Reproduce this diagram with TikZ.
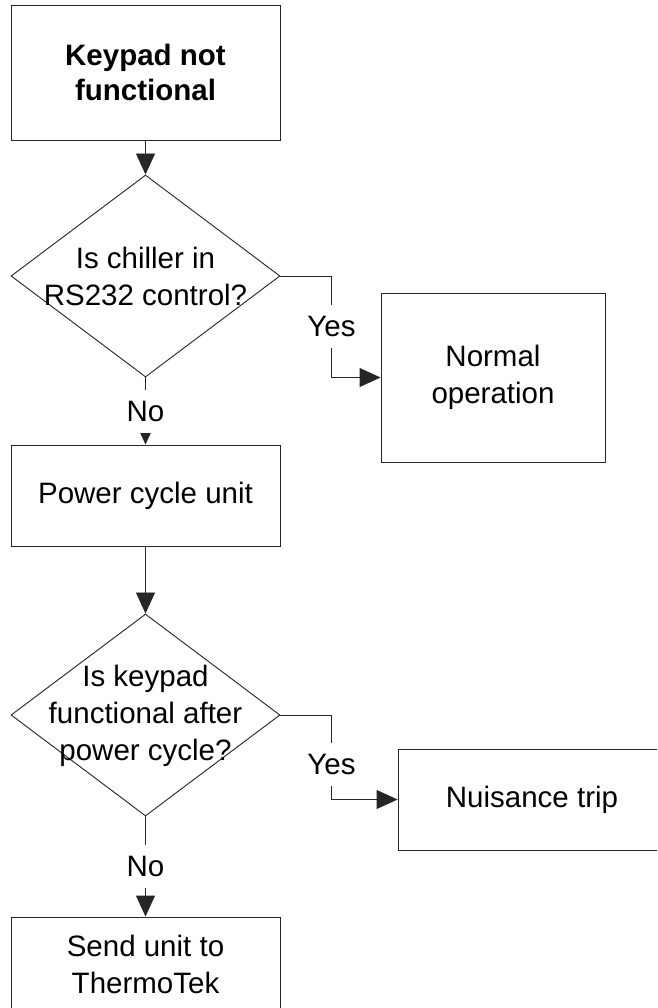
\documentclass[tikz,border=0pt]{standalone}
\usepackage{fontspec}
\setmainfont{Liberation Sans}
\usetikzlibrary{shapes.geometric,arrows.meta}
\begin{document}
\begin{tikzpicture}[x=1pt,y=-1pt,
  line width=0.9pt,
  txt/.style={font=\fontsize{29.5}{37}\selectfont, align=center, text=black},
  box/.style={draw=black!85, rectangle, inner sep=0pt, txt},
  dia/.style={draw=black!85, diamond, inner sep=0pt, minimum width=269pt, minimum height=202pt},
  conn/.style={draw=black!85, -{Triangle[length=21pt,width=19pt]}},
  lbl/.style={fill=white, inner xsep=2pt, inner ysep=0pt, minimum height=43pt, txt}
]
\useasboundingbox (0,0) rectangle (657,1008);
\clip (0,0) rectangle (657,1008);
\fill[white] (0,0) rectangle (657,1008);

\node[box, minimum width=269pt, minimum height=135pt, font=\bfseries\fontsize{29.5}{35}\selectfont] (b1) at (145.5,72.5) {Keypad not\\functional};
\node[dia] (d1) at (145.5,276) {};
\node[txt] (d1t) at (145.5,276.5) {Is chiller in\\RS232 control?};
\node[box, minimum width=224pt, minimum height=169pt] (n1) at (493,377.5) {Normal\\operation};
\node[box, minimum width=269pt, minimum height=101pt] (b2) at (145.5,495.5) {Power cycle unit};
\node[dia] (d2) at (145.5,715) {};
\node[txt] (d2t) at (145.5,716) {Is keypad\\functional after\\power cycle?};
\node[box, minimum width=268pt, minimum height=101pt] (n2) at (532,799.5) {Nuisance trip};
\node[box, minimum width=269pt, minimum height=94pt] (b4) at (145.5,964) {Send unit to\\ThermoTek};

\draw[conn] (b1) -- (d1);
\draw[conn] (d1.east) -- ++(51,0) |- node[lbl,pos=0.25]{Yes} (n1.west);
\draw[conn] (d1) -- node[lbl]{No} (b2);
\draw[conn] (b2) -- (d2);
\draw[conn] (d2.east) -- ++(51,0) |- node[lbl,pos=0.295]{Yes} (n2.west);
\draw[conn] (d2) -- node[lbl]{No} (b4);
\end{tikzpicture}
\end{document}
